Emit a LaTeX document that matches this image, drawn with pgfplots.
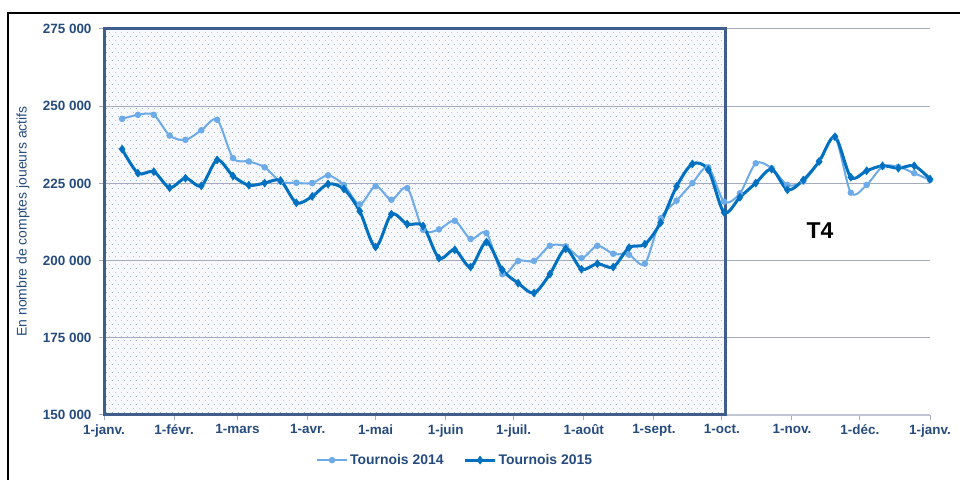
\documentclass[border=0pt]{standalone}
\usepackage{pgfplots}
\pgfplotsset{compat=1.18}
\usepackage{fontspec}
\setmainfont{Liberation Sans}
\definecolor{lightser}{HTML}{6DAAE8}
\definecolor{darkser}{HTML}{0070C0}
\definecolor{txtblue}{HTML}{254B7E}
\definecolor{gridc}{HTML}{A4ABBD}
\definecolor{bordc}{HTML}{3F5E8C}
\definecolor{bgfill}{HTML}{F6F8FC}
\definecolor{dotc}{HTML}{9AB3D6}
\pgfplotstableread{
day val
8 245900
15 247200
22 247200
29 240500
36 239100
43 242200
50 245600
57 233200
64 232100
71 230200
78 225600
85 225200
92 225100
99 227600
106 224500
113 218200
120 224100
127 219700
134 223500
141 210000
148 210100
155 212900
162 207000
169 208900
176 195600
183 199900
190 199900
197 204800
204 204600
211 200800
218 204800
225 202200
232 201900
239 199000
246 213700
253 219400
260 225100
267 230200
274 219100
281 221800
288 231500
295 229900
302 224500
309 225600
316 232100
323 240000
330 222000
337 224500
344 230400
351 230400
358 228300
365 226100
}\tabA
\pgfplotstableread{
day val
8 236100
15 228300
22 228800
29 223600
36 226700
43 224200
50 232600
57 227400
64 224400
71 225100
78 225900
85 218700
92 220800
99 224800
106 223200
113 216000
120 204400
127 215000
134 211800
141 211200
148 200800
155 203500
162 197900
169 206000
176 197000
183 192700
190 189500
197 195600
204 203800
211 197200
218 199000
225 197900
232 204200
239 205300
246 212300
253 224000
260 231300
267 229400
274 215600
281 220500
288 225100
295 229600
302 222900
309 226100
316 232100
323 240100
330 227000
337 229100
344 230700
351 229900
358 230700
365 226400
}\tabB
\begin{document}
\begin{tikzpicture}[x=1bp,y=1bp]
\draw[black, line width=2.5bp] (8,-2) -- (8,467) -- (962,467);
% dotted background of the Q1-Q3 area
\fill[bgfill] (104,65) rectangle (725.2,451);
\foreach \k in {0,...,47} {
  \draw[dotc, line width=1.1bp, dash pattern=on 1.1bp off 4.9bp] (106,67.5+8*\k) -- (724,67.5+8*\k);
  \draw[dotc!70, line width=1.1bp, dash pattern=on 1.1bp off 4.9bp] (109,71.5+8*\k) -- (724,71.5+8*\k);
}
\begin{axis}[
  at={(104bp,65bp)}, anchor=south west,
  width=826bp, height=386bp, scale only axis,
  xmin=0, xmax=365, ymin=150000, ymax=275000,
  scaled y ticks=false,
  axis lines*=left,
  x axis line style={draw=gridc!70, line width=2bp},
  y axis line style={draw=bordc, line width=3bp},
  ymajorgrids, grid style={gridc, line width=1bp},
  tick align=outside, major tick length=5bp,
  tick style={gridc, line width=1bp},
  xtick={0,31,59,90,120,151,181,212,243,273,304,334,365},
  xticklabels={1-janv.,1-févr.,1-mars,1-avr.,1-mai,1-juin,1-juil.,1-août,1-sept.,1-oct.,1-nov.,1-déc.,1-janv.},
  ytick={150000,175000,200000,225000,250000,275000},
  yticklabels={150 000,175 000,200 000,225 000,250 000,275 000},
  ticklabel style={font=\fontsize{13.5}{16}\selectfont\bfseries, text=txtblue},
  yticklabel style={xshift=-4bp},
  xticklabel style={yshift=-1bp},
  legend style={at={(0.425,-0.117)}, anchor=center, draw=none, fill=none,
    legend columns=2, font=\fontsize{14}{16}\selectfont\bfseries, text=txtblue,
    /tikz/every even column/.append style={column sep=18bp}},
  legend image code/.code={\draw[mark repeat=2,mark phase=2,#1] plot coordinates {(0bp,0bp) (15bp,0bp) (30bp,0bp)};},
  clip=false,
]
\draw[bordc, line width=3bp] (axis cs:0,150000) rectangle (axis cs:274.5,275000);
\addplot[lightser, line width=2bp, smooth, tension=0.5, mark=*, mark size=2.2bp, mark options={fill=lightser, draw=lightser}] table[x=day,y=val] {\tabA};
\addlegendentry{Tournois 2014}
\addplot[darkser, line width=3bp, smooth, tension=0.5, mark=diamond*, mark size=4bp, mark options={fill=darkser, draw=darkser, line width=0.5bp}] table[x=day,y=val] {\tabB};
\addlegendentry{Tournois 2015}
\node[font=\fontsize{23}{26}\selectfont\bfseries] at (axis cs:316.4,209600) {T4};
\end{axis}
\node[rotate=90, text=txtblue, font=\fontsize{14}{16}\selectfont] at (23,258.5) {En nombre de comptes joueurs actifs};
\pgfresetboundingbox
\useasboundingbox (0,0) rectangle (960,480);
\end{tikzpicture}
\end{document}
